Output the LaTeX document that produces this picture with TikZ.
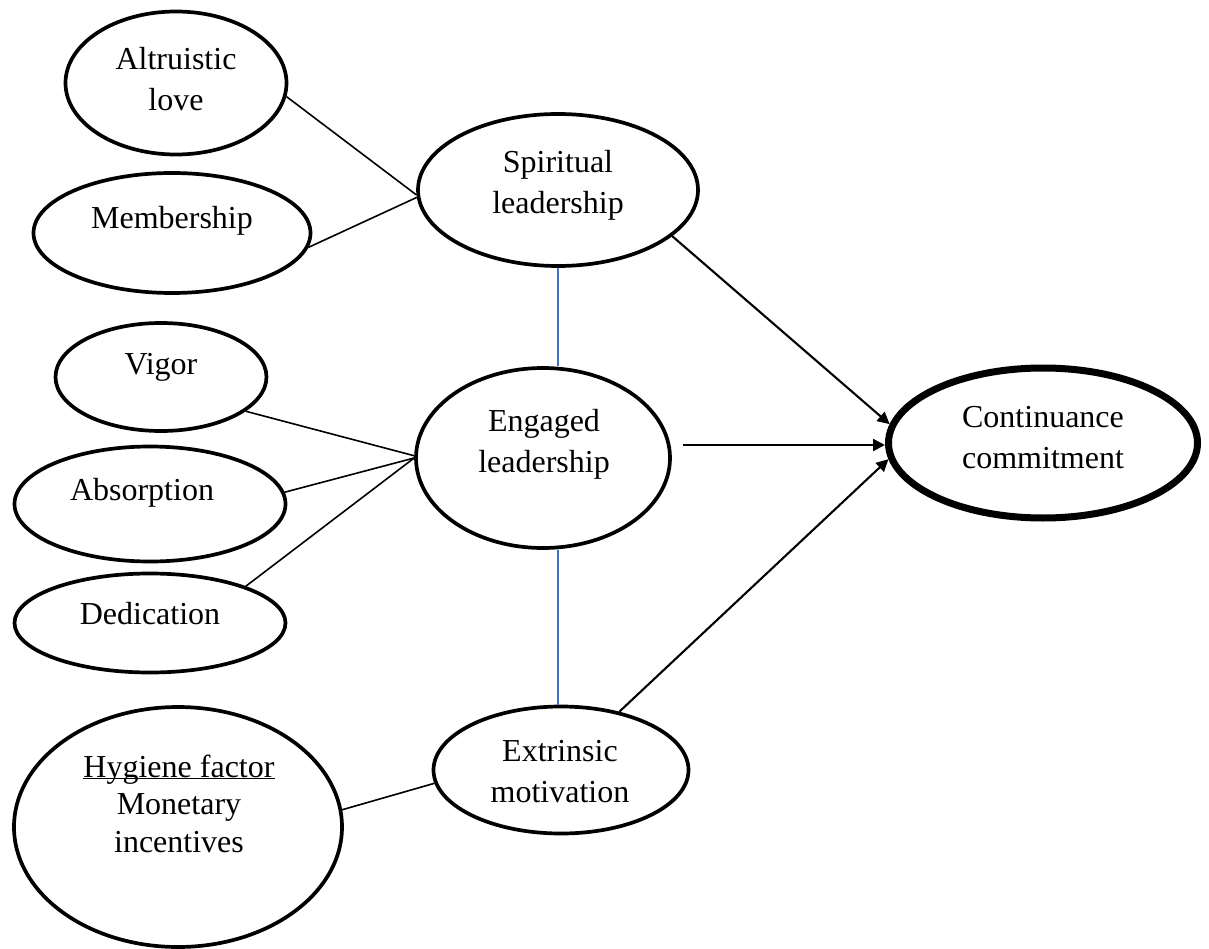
\documentclass[tikz,border=0pt]{standalone}
\usepackage{fontspec}
\setmainfont{Liberation Serif}
\usetikzlibrary{shapes.geometric,arrows.meta}
\definecolor{wordblue}{RGB}{68,114,196}
\begin{document}
\begin{tikzpicture}[x=1pt,y=-1pt,
  oval/.style={draw, ellipse, line width=3.7pt, inner sep=0pt},
  lbl/.style={font=\fontsize{32}{41}\selectfont, align=center, inner sep=0pt},
  link/.style={line width=1.6pt},
  blueline/.style={line width=1.6pt, draw=wordblue},
  arr/.style={line width=2.1pt, -{Triangle[length=12pt,width=12pt]}}]
\useasboundingbox (0,0) rectangle (1209,949);
% ellipses
\node[oval, minimum width=221pt, minimum height=143pt] (alt) at (176,83) {};
\node[oval, minimum width=277pt, minimum height=120pt] (mem) at (172,233) {};
\node[oval, minimum width=280pt, minimum height=152pt] (spir) at (558,190) {};
\node[oval, minimum width=211pt, minimum height=108pt] (vig) at (161,377) {};
\node[oval, minimum width=254pt, minimum height=180pt] (eng) at (543,458) {};
\node[oval, minimum width=271pt, minimum height=115pt] (abs) at (150,504) {};
\node[oval, minimum width=271pt, minimum height=99pt] (ded) at (150,623) {};
\node[oval, minimum width=328pt, minimum height=240pt] (hyg) at (178,827) {};
\node[oval, minimum width=255pt, minimum height=127pt] (ext) at (561,770) {};
\node[oval, line width=7pt, minimum width=309pt, minimum height=150pt] (cont) at (1043,443) {};
% texts
\node[lbl] (altT) at (176,79) {Altruistic\\love};
\node[lbl] (memT) at (172,220.5) {Membership};
\node[lbl] (spirT) at (558,185.5) {Spiritual\\leadership};
\node[lbl] (vigT) at (161,367.5) {Vigor};
\node[lbl] (absT) at (142,492.5) {Absorption};
\node[lbl] (dedT) at (150,614) {Dedication};
\node[lbl] (engT) at (544,444) {Engaged\\leadership};
\node[lbl, font=\fontsize{32}{37.5}\selectfont] (hygT) at (179,803.5) {\underline{\raisebox{0pt}[\height][0pt]{Hygiene factor}}\\Monetary\\incentives};
\node[lbl] (extT) at (560,771.5) {Extrinsic\\motivation};
\node[lbl] (contT) at (1043,438) {Continuance\\commitment};
% links
\draw[link] (alt.-7) -- (spir.182);
\draw[link] (mem.-6) -- (spir.183);
\draw[link] (vig.-22) -- (eng.179);
\draw[link] (abs.5) -- (eng.180);
\draw[link] (ded.21) -- (eng.180);
\draw[link] (hyg.6.5) -- (ext.186);
\draw[blueline] (spir.south) -- (spir.south |- eng.north);
\draw[blueline] (spir.south |- eng.south) -- (spir.south |- ext.north);
% arrows
\coordinate (engout) at ([xshift=11pt,yshift=13pt]eng.east);
\draw[arr] (spir.-22) -- (cont.173);
\draw[arr] (engout) -- (engout -| cont.west);
\draw[arr] (ext.45) -- (cont.186);
\end{tikzpicture}
\end{document}
